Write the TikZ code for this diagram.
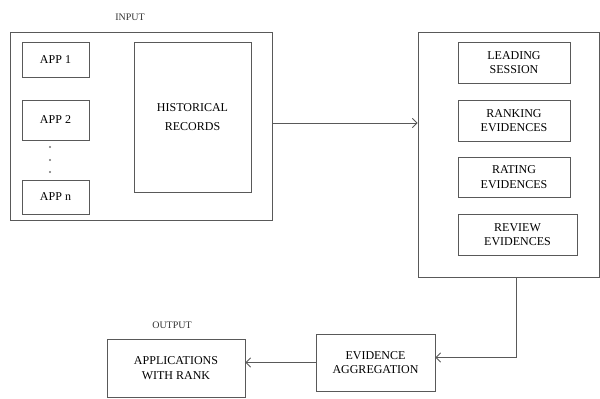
\documentclass[tikz,border=0pt]{standalone}
\usepackage{fontspec}
\setmainfont{Liberation Serif}
\usetikzlibrary{positioning}
\usetikzlibrary{calc}
\usetikzlibrary{arrows.meta}
% One pixel of the sketch
\newlength{\pxu}
\setlength{\pxu}{0.75pt}
\tikzset{
    % Thin open arrow heads, as in the sketch
    >={Straight Barb[length=3.5pt, width=7pt]},
%
    % Every outline is a thin grey line
    grey line/.style={draw=black!65, line width=0.6pt},
%
    % A plain box holding a label
    label box/.style={
        grey line, rectangle, inner sep=0, align=center,
        font=\fontsize{9}{11}\selectfont},
%
    % The large boxes grouping the stages
    group box/.style={grey line, rectangle, inner sep=0},
%
    % Captions above a group
    caption/.style={font=\fontsize{7.5}{9}\selectfont, text=black!80}}

\begin{document}
\begin{tikzpicture}[x=\pxu, y=-\pxu]
\useasboundingbox (0,0) rectangle (600,399);

% The input group with the apps and their records
\path
    node[group box, minimum width=262\pxu, minimum height=188\pxu]
        (input) at (141,126) {}
    node[caption] (input label) at (130,17) {INPUT}

    node[label box, minimum width=67\pxu, minimum height=35\pxu]
        (app one) at (55.5,59.5) {APP 1}
    node[label box, minimum width=67\pxu, minimum height=40\pxu]
        (app two) at (55.5,120) {APP 2}
    node[label box, minimum width=67\pxu, minimum height=34\pxu]
        (app n) at (55.5,197) {APP n}

    node[label box, minimum width=117\pxu, minimum height=150\pxu]
        (records) at (192.5,117) {HISTORICAL\\[3pt]RECORDS};

\foreach \y in {147,160,172}
    \fill[black!55] (50,\y) circle (1.1);

% The evidence stages
\path
    node[group box, minimum width=181\pxu, minimum height=245\pxu]
        (stages) at (508.5,154.5) {}

    node[label box, minimum width=112\pxu, minimum height=41\pxu]
        (leading) at (514,62.5) {LEADING\\SESSION}
    node[label box, minimum width=112\pxu, minimum height=41\pxu]
        (ranking) at (514,120.5) {RANKING\\EVIDENCES}
    node[label box, minimum width=112\pxu, minimum height=40\pxu]
        (rating) at (514,177) {RATING\\EVIDENCES}
    node[label box, minimum width=119\pxu, minimum height=41\pxu]
        (review) at (517.5,234.5) {REVIEW\\EVIDENCES};

\draw[grey line, ->] ($(input.east)+(0,-3)$) -- ($(input.east -| stages.west)+(0,-3)$);

% Aggregation and the ranked output
\path
    node[label box, minimum width=119\pxu, minimum height=57\pxu]
        (aggregation) at (375.5,362.5) {EVIDENCE\\AGGREGATION}

    node[label box, minimum width=138\pxu, minimum height=58\pxu]
        (ranked apps) at (176,368) {APPLICATIONS\\WITH RANK}
    node[caption] (output label) at (172,325) {OUTPUT};

\draw[grey line, ->] ($(stages.south)+(7.5,0)$) |- ($(aggregation.east)+(0,-5)$);
\draw[grey line, ->] (aggregation.west) -- (aggregation.west -| ranked apps.east);

\end{tikzpicture}
\end{document}
